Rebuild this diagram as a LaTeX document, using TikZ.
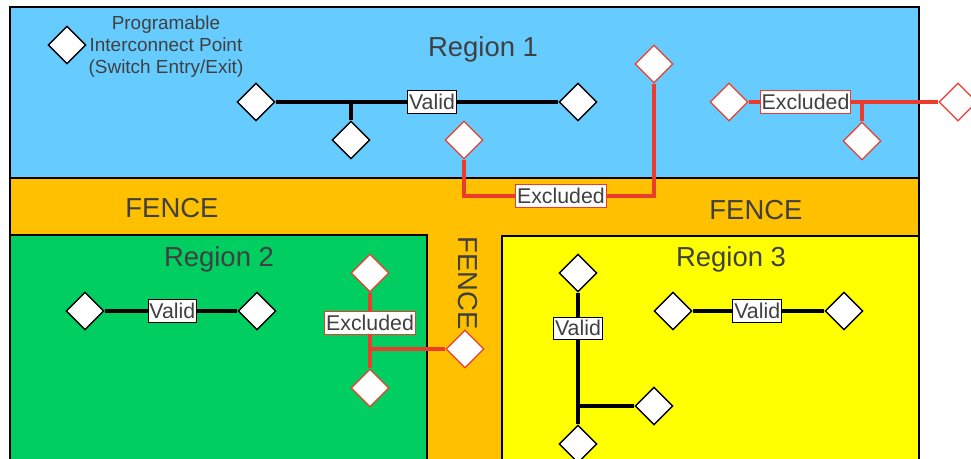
\documentclass[tikz,border=0pt]{standalone}
\usepackage{fontspec}
\setmainfont{Liberation Sans}
\usetikzlibrary{shapes.geometric}
\definecolor{rblue}{RGB}{102,204,255}
\definecolor{rfence}{RGB}{255,192,0}
\definecolor{rgreen}{RGB}{0,206,96}
\definecolor{ryellow}{RGB}{255,255,0}
\definecolor{xred}{RGB}{235,60,45}
\definecolor{txt}{RGB}{64,64,64}
\begin{document}
\begin{tikzpicture}[x=0.75pt,y=-0.75pt,
  pip/.style={diamond, draw=black, line width=1.1pt, fill=white, minimum size=28.5pt, inner sep=0pt},
  xpip/.style={pip, draw=xred, line width=1pt},
  wire/.style={line width=2.6pt, draw=black},
  xwire/.style={line width=2.6pt, draw=xred},
  lbl/.style={fill=white, draw=black, line width=0.7pt, text=txt, font=\fontsize{16}{16}\selectfont, inner xsep=1pt, inner ysep=2.5pt},
  xlbl/.style={lbl, draw=xred},
  region/.style={draw=black, line width=0.8pt},
  title/.style={text=txt, font=\fontsize{20.6}{20.6}\selectfont},
  legend/.style={text=txt, font=\fontsize{14.2}{16.5}\selectfont, align=center}]
\useasboundingbox (0,0) rectangle (971,459);
\clip (0,0) rectangle (971,459);
% regions
\fill[white] (0,0) rectangle (971,459);
\draw[region, fill=rblue] (10,7) rectangle (919,178);
\draw[region, fill=rfence] (10,178) rectangle (919,480);
\draw[region, fill=rgreen] (10,235) rectangle (427,480);
\draw[region, fill=ryellow] (502,236) rectangle (919,480);
% titles
\node[title] (t1) at (483,49) {Region 1};
\node[title] (t2) at (219,259) {Region 2};
\node[title] (t3) at (731,259) {Region 3};
\node[title] (f1) at (172,208) {FENCE};
\node[title] (f2) at (756,210) {FENCE};
\node[title, rotate=-90] (f3) at (468,283) {FENCE};
% legend
\node[pip] (lg) at (67,45) {};
\node[legend] (lgt) at (166,47) {Programable\\Interconnect Point\\(Switch Entry/Exit)};
% region 1 valid
\node[pip] (r1a) at (256,102) {};
\node[pip] (r1b) at (578,102) {};
\node[pip] (r1c) at (351,140) {};
\coordinate (j1) at (351,102);
\draw[wire] (r1a) -- node[lbl, pos=0.553] {Valid} (r1b);
\draw[wire] (j1) -- (r1c);
% region 1 -> fence excluded
\node[xpip] (x1a) at (464,140) {};
\node[xpip] (x1b) at (654,64) {};
\coordinate (c1) at (464,196);
\coordinate (c2) at (654,196);
\draw[xwire] (x1a) -- (c1) -- node[xlbl, pos=0.51] {Excluded} (c2) -- (x1b);
% region 1 right excluded
\node[xpip] (x2a) at (729,102) {};
\node[xpip] (x2b) at (958,102) {};
\node[xpip] (x2c) at (862,141) {};
\coordinate (j2) at (862,102);
\draw[xwire] (x2a) -- node[xlbl, pos=0.30] {Excluded} (x2b);
\draw[xwire] (j2) -- (x2c);
% region 2 valid
\node[pip] (r2a) at (85,311) {};
\node[pip] (r2b) at (257,311) {};
\draw[wire] (r2a) -- node[lbl, pos=0.51] {Valid} (r2b);
% region 2 excluded
\node[xpip] (x3a) at (370,273) {};
\node[xpip] (x3b) at (370,388) {};
\node[xpip] (x3c) at (465,349) {};
\coordinate (j3) at (370,349);
\draw[xwire] (x3a) -- node[xlbl, pos=0.40] {Excluded} (x3b);
\draw[xwire] (j3) -- (x3c);
% region 3 vertical
\node[pip] (r3a) at (578,273) {};
\node[pip] (r3b) at (578,444) {};
\node[pip] (r3c) at (654,406) {};
\coordinate (j4) at (578,406);
\draw[wire] (r3a) -- node[lbl, pos=0.27] {Valid} (r3b);
\draw[wire] (j4) -- (r3c);
% region 3 horizontal
\node[pip] (r3d) at (673,311) {};
\node[pip] (r3e) at (844,311) {};
\draw[wire] (r3d) -- node[lbl, pos=0.49] {Valid} (r3e);
\end{tikzpicture}
\end{document}
